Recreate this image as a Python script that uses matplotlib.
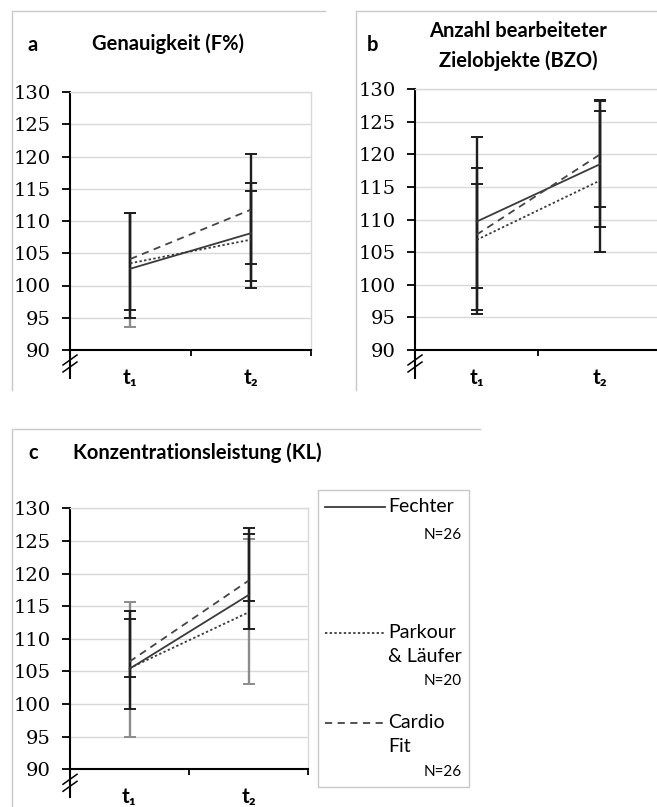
import matplotlib
matplotlib.use('Agg')
import matplotlib.pyplot as plt
from matplotlib.lines import Line2D
from matplotlib.patches import Rectangle

W, H = 657, 807

times = ['t\u2081', 't\u2082']
groups = ['Fechter', 'Parkour\n& Läufer', 'Cardio\nFit']
group_n = ['N=26', 'N=20', 'N=26']

# rows: Fechter, Parkour & Läufer, Cardio Fit ; cols: t1, t2
# a - Genauigkeit (F%)
a_mean = [[102.6, 108.1], [103.45, 107.1], [104.1, 111.75]]
a_lo = [[93.6, 100.7], [95.0, 99.6], [96.2, 103.4]]
a_hi = [[111.3, 115.9], [111.3, 114.7], [111.3, 120.4]]

# b - Anzahl bearbeiteter Zielobjekte (BZO)
b_mean = [[109.7, 118.5], [106.9, 116.0], [107.7, 120.0]]
b_lo = [[95.5, 108.8], [96.1, 105.0], [99.5, 112.0]]
b_hi = [[122.7, 128.2], [118.0, 126.7], [115.5, 128.4]]

# c - Konzentrationsleistung (KL)
c_mean = [[105.4, 116.7], [105.5, 114.05], [106.5, 118.9]]
c_lo = [[95.0, 115.8], [104.2, 103.0], [99.2, 111.5]]
c_hi = [[115.7, 126.0], [113.1, 125.3], [114.3, 127.0]]

yticks = list(range(90, 131, 5))

# styling
line_styles = ['-', (0, (1.3, 1.3)), (0, (4, 3))]
line_colors = ['#3a3a3a', '#3a3a3a', '#454545']
# error bars drawn light gray for some points
a_gray = [[1, 0], [0, 0], [0, 0]]
b_gray = [[0, 0], [0, 0], [0, 0]]
c_gray = [[1, 0], [0, 1], [0, 0]]

SERIF = 'DejaVu Serif'
SANS = ['Lato', 'DejaVu Sans']


def fx(px):
    return px / W


def fy(py):
    return 1 - py / H


def draw_panel(ax, mean, lo, hi, gray):
    xs = list(range(len(times)))
    for k in range(len(mean)):
        for i in xs:
            col = '#8c8c8c' if gray[k][i] else '#1e1e1e'
            ax.errorbar(i, mean[k][i],
                        yerr=[[mean[k][i] - lo[k][i]], [hi[k][i] - mean[k][i]]],
                        fmt='none', ecolor=col, elinewidth=1.7, capsize=4.6,
                        capthick=1.4, zorder=2 if gray[k][i] else 3)
    for k in range(len(mean)):
        ax.plot(xs, mean[k], color=line_colors[k], lw=1.3,
                linestyle=line_styles[k], zorder=4)

    ax.set_xlim(-0.5, 1.5)
    ax.set_ylim(90, 130)
    ax.set_yticks(yticks)
    ax.set_yticklabels([str(v) for v in yticks], family=SERIF, fontsize=14)
    ax.set_xticks([-0.5, 0.5, 1.5])
    ax.set_xticklabels(['', '', ''])
    ax.set_xticks(xs, minor=True)
    ax.set_xticklabels(times, minor=True, family=SANS, fontsize=15,
                       fontweight='bold')
    ax.tick_params(axis='y', length=6, width=1.3, pad=8)
    ax.tick_params(axis='x', which='major', length=4.5, width=1.3)
    ax.tick_params(axis='x', which='minor', length=0, pad=13)
    ax.yaxis.grid(True, color='#d9d9d9', lw=1)
    ax.set_axisbelow(True)
    for s in ['left', 'bottom']:
        ax.spines[s].set_linewidth(1.5)
        ax.spines[s].set_color('black')
    for s in ['top', 'right']:
        ax.spines[s].set_linewidth(1)
        ax.spines[s].set_color('#d9d9d9')

    # axis continues below 90 with a break mark
    wpx = ax.bbox.width
    hpx = ax.bbox.height
    ax.plot([0, 0], [0, -28 / hpx], transform=ax.transAxes, color='black',
            lw=1.5, clip_on=False)
    for off in [10, 17]:
        ax.plot([-7 / wpx, 7 / wpx], [(-off - 5) / hpx, (-off + 5) / hpx],
                transform=ax.transAxes, color='black', lw=1.1, clip_on=False)


fig = plt.figure(figsize=(W / 100, H / 100), dpi=100)

ax_a = fig.add_axes([fx(70), fy(350), (311 - 70) / W, (350 - 92) / H])
ax_b = fig.add_axes([fx(415), fy(350), (661.6 - 415) / W, (350 - 89.3) / H])
ax_c = fig.add_axes([fx(70), fy(769.3), (308 - 70) / W, (769.3 - 508.3) / H])

draw_panel(ax_a, a_mean, a_lo, a_hi, a_gray)
draw_panel(ax_b, b_mean, b_lo, b_hi, b_gray)
draw_panel(ax_c, c_mean, c_lo, c_hi, c_gray)

# panel frames
frame_col = '#c8c8c8'
for xs_, ys_ in [([12, 12, 325], [390, 11, 11]),
                 ([356, 356, 657], [390, 11, 11]),
                 ([12, 12, 480], [807, 429, 429])]:
    fig.add_artist(Line2D([fx(v) for v in xs_], [fy(v) for v in ys_],
                          transform=fig.transFigure, color=frame_col, lw=1))

# titles
tkw = dict(family=SANS, fontsize=14.5, fontweight='bold', va='center')
fig.text(fx(33), fy(45), 'a', ha='center', **tkw)
fig.text(fx(168), fy(44), 'Genauigkeit (F%)', ha='center', **tkw)
fig.text(fx(373), fy(45), 'b', ha='center', **tkw)
fig.text(fx(518), fy(31), 'Anzahl bearbeiteter', ha='center', **tkw)
fig.text(fx(518), fy(61), 'Zielobjekte (BZO)', ha='center', **tkw)
fig.text(fx(33), fy(453), 'c', ha='center', **tkw)
fig.text(fx(73), fy(453), 'Konzentrationsleistung (KL)', ha='left', **tkw)

# legend box
fig.add_artist(Rectangle((fx(318), fy(787)), (469 - 318) / W, (787 - 490) / H,
                         transform=fig.transFigure, facecolor='white',
                         edgecolor=frame_col, lw=1))
leg_y = [507, 633, 723]
n_y = [535, 681, 772]
for k in range(len(groups)):
    fig.add_artist(Line2D([fx(325), fx(385)], [fy(leg_y[k]), fy(leg_y[k])],
                          transform=fig.transFigure, color=line_colors[k],
                          lw=1.3, linestyle=line_styles[k]))
    for j, part in enumerate(groups[k].split('\n')):
        fig.text(fx(388), fy(leg_y[k] + 24 * j), part, ha='left', va='center',
                 family=SANS, fontsize=14)
    fig.text(fx(462), fy(n_y[k]), group_n[k], ha='right', va='center',
             family=SANS, fontsize=11)

fig.savefig('out.png', dpi=100)
